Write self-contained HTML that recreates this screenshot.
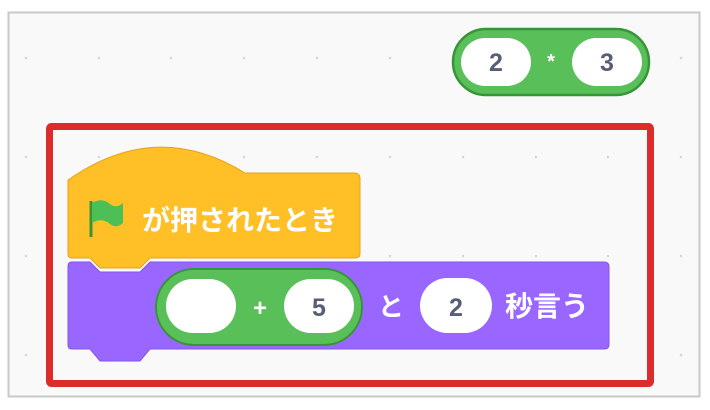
<!DOCTYPE html>
<html><head><meta charset="utf-8"><style>
html,body{margin:0;padding:0;background:#fff;}
svg{display:block}
text{font-family:"Liberation Sans","Noto Sans CJK JP",sans-serif;font-weight:bold}
</style></head><body>
<svg width="710" height="410" viewBox="0 0 710 410">
<rect x="8.5" y="12.5" width="691" height="384" fill="#f9f9f9" stroke="#c9c9c9" stroke-width="2"/>
<g fill="#d8d8d8">
<circle cx="26" cy="58" r="1.3"/><circle cx="99" cy="58" r="1.3"/><circle cx="171" cy="58" r="1.3"/><circle cx="244" cy="58" r="1.3"/><circle cx="317" cy="58" r="1.3"/><circle cx="390" cy="58" r="1.3"/><circle cx="681" cy="58" r="1.3"/>
<g transform="translate(0,99)"><circle cx="26" cy="58" r="1.3"/><circle cx="99" cy="58" r="1.3"/><circle cx="171" cy="58" r="1.3"/><circle cx="244" cy="58" r="1.3"/><circle cx="317" cy="58" r="1.3"/><circle cx="390" cy="58" r="1.3"/><circle cx="463" cy="58" r="1.3"/><circle cx="536" cy="58" r="1.3"/><circle cx="608" cy="58" r="1.3"/><circle cx="681" cy="58" r="1.3"/></g>
<circle cx="26" cy="256" r="1.3"/><circle cx="681" cy="256" r="1.3"/><circle cx="390" cy="256" r="1.3"/><circle cx="463" cy="256" r="1.3"/><circle cx="536" cy="256" r="1.3"/><circle cx="608" cy="256" r="1.3"/>
<circle cx="26" cy="355" r="1.3"/><circle cx="681" cy="355" r="1.3"/>
</g>
<!-- top reporter -->
<rect x="453" y="29" width="196" height="66" rx="33" fill="#59c059" stroke="#389438" stroke-width="2.5"/>
<rect x="461" y="38" width="70" height="48" rx="24" fill="#fff"/>
<rect x="572" y="38" width="70" height="48" rx="24" fill="#fff"/>
<text x="496" y="71" font-size="25" fill="#575e75" text-anchor="middle">2</text>
<text x="607" y="71" font-size="25" fill="#575e75" text-anchor="middle">3</text>
<text x="551" y="68" font-size="20" fill="#fff" text-anchor="middle">*</text>
<!-- red box -->
<rect x="49.5" y="126.5" width="601" height="257" rx="2" fill="none" stroke="#dc2b2b" stroke-width="7"/>
<!-- hat block -->
<path d="M68 180 Q156 118 245 173 L354 173 Q360 173 360 179 L360 254 Q360 258 354 258 L150 258 L140 268 L100 268 L90 258 L72 258 Q68 258 68 254 Z" fill="#ffbf26" stroke="#e6a31a" stroke-width="1"/>
<path d="M91 201 L91 237" stroke="#389438" stroke-width="3"/>
<path d="M92 203 Q102 197 110 204 Q116 209 123 203 L123 223 Q116 229 110 224 Q102 217 92 223 Z" fill="#4cbf56"/>
<text x="142" y="230" font-size="28" fill="#fff">が押されたとき</text>
<!-- purple block -->
<path d="M72 262 L90 262 L100 272 L140 272 L150 262 L604 262 Q609 262 609 267 L609 345 Q609 349 604 349 L150 349 L140 361 L100 361 L90 349 L72 349 Q68 349 68 345 L68 266 Q68 262 72 262 Z" fill="#9966ff" stroke="#8555e6" stroke-width="1"/>
<rect x="156" y="269" width="206" height="76" rx="38" fill="#59c059" stroke="#389438" stroke-width="2"/>
<rect x="166" y="279" width="70" height="54" rx="27" fill="#fff"/>
<rect x="284" y="279" width="70" height="54" rx="27" fill="#fff"/>
<text x="260" y="316" font-size="24" fill="#fff" text-anchor="middle">+</text>
<text x="319" y="316" font-size="25" fill="#575e75" text-anchor="middle">5</text>
<text x="378" y="316" font-size="26" fill="#fff">と</text>
<rect x="420" y="278" width="72" height="55" rx="27.5" fill="#fff"/>
<text x="456" y="316" font-size="25" fill="#575e75" text-anchor="middle">2</text>
<text x="505" y="316" font-size="28" fill="#fff">秒言う</text>
</svg>
</body></html>
